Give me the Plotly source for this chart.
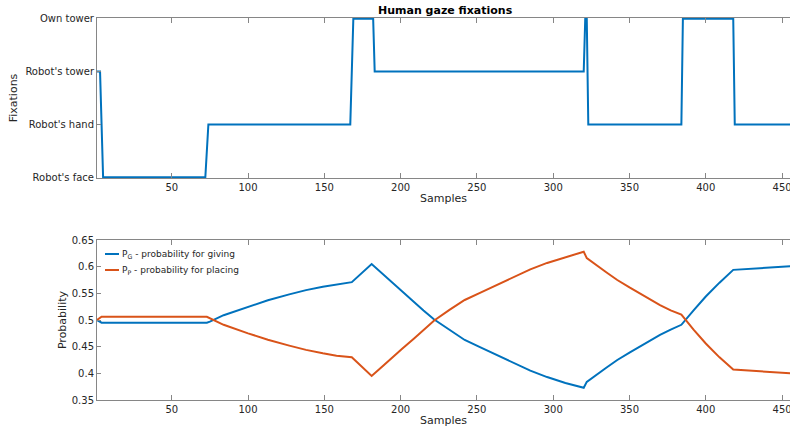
import plotly.graph_objects as go

# ---- data ----
fixation_labels = ["Robot's face", "Robot's hand", "Robot's tower", "Own tower"]

fix_samples = [1, 3, 5, 72, 74, 167, 169, 182, 183, 320, 321, 322, 323, 384, 385, 418, 419, 456]
fix_values = ["Robot's tower", "Robot's tower", "Robot's face", "Robot's face", "Robot's hand",
              "Robot's hand", "Own tower", "Own tower", "Robot's tower", "Robot's tower",
              "Own tower", "Own tower", "Robot's hand", "Robot's hand", "Own tower",
              "Own tower", "Robot's hand", "Robot's hand"]

prob_samples = [1, 4, 73, 75, 84, 100, 113, 127, 138, 149, 158, 168, 181, 188, 194, 201, 209,
                215, 222, 232, 242, 252, 262, 274, 285, 296, 308, 320, 321, 322, 335, 342, 350,
                360, 370, 377, 384, 392, 400, 409, 418, 456]
p_giving = [0.500, 0.495, 0.495, 0.497, 0.509, 0.525, 0.537, 0.548, 0.556, 0.5625, 0.567, 0.571,
            0.605, 0.587, 0.571, 0.554, 0.534, 0.518, 0.501, 0.481, 0.4625, 0.449, 0.436, 0.419,
            0.405, 0.393, 0.382, 0.373, 0.378, 0.384, 0.411, 0.425, 0.439, 0.456, 0.472, 0.482,
            0.491, 0.518, 0.544, 0.570, 0.594, 0.601]
p_placing = [0.500, 0.506, 0.506, 0.503, 0.491, 0.475, 0.463, 0.452, 0.444, 0.4375, 0.433, 0.430,
             0.395, 0.413, 0.429, 0.446, 0.466, 0.482, 0.499, 0.519, 0.5375, 0.551, 0.564, 0.581,
             0.595, 0.607, 0.618, 0.628, 0.622, 0.616, 0.589, 0.575, 0.561, 0.544, 0.528, 0.518,
             0.510, 0.482, 0.456, 0.430, 0.407, 0.400]

x_ticks = [50, 100, 150, 200, 250, 300, 350, 400, 450]
prob_ticks = [0.35, 0.4, 0.45, 0.5, 0.55, 0.6, 0.65]
prob_tick_text = ["0.35", "0.4", "0.45", "0.5", "0.55", "0.6", "0.65"]

legend_names = ["P<sub>G</sub> - probability for giving", "P<sub>P</sub> - probability for placing"]

# ---- style ----
BLUE = "#0072BD"
ORANGE = "#D95319"
TXT = "#262626"
AX = "#868686"
FONT = "DejaVu Sans"

W, H = 790, 433
L, R, T, B = 97, 0, 18, 33
plot_h = H - T - B


def frac_y(py):
    return (H - B - py) / plot_h


def frac_x(px):
    return (px - L) / (W - L - R)


top_dom = [frac_y(178), frac_y(18)]
bot_dom = [frac_y(400), frac_y(240)]

fig = go.Figure()
fig.add_trace(go.Scatter(x=fix_samples, y=fix_values, mode="lines",
                         line=dict(color=BLUE, width=2), xaxis="x", yaxis="y",
                         showlegend=False, name="Fixations"))
fig.add_trace(go.Scatter(x=prob_samples, y=p_giving, mode="lines",
                         line=dict(color=BLUE, width=2), xaxis="x2", yaxis="y2",
                         showlegend=False, name=legend_names[0]))
fig.add_trace(go.Scatter(x=prob_samples, y=p_placing, mode="lines",
                         line=dict(color=ORANGE, width=2), xaxis="x2", yaxis="y2",
                         showlegend=False, name=legend_names[1]))

xcommon = dict(range=[1, 455.2], tickvals=x_ticks, ticks="inside", ticklen=5,
               tickcolor=AX, showline=True, linecolor=AX, linewidth=1, mirror="ticks",
               showgrid=False, zeroline=False, automargin=False, ticklabeloverflow="allow",
               tickfont=dict(size=10, color=TXT, family=FONT),
               title=dict(text="Samples", font=dict(size=11, color=TXT, family=FONT), standoff=2))

ycommon = dict(ticks="inside", ticklen=4, tickcolor=AX, showline=True, linecolor=AX,
               linewidth=1, showgrid=False, zeroline=False, automargin=False,
               ticklabeloverflow="allow",
               tickfont=dict(size=10, color=TXT, family=FONT))

fig.update_layout(
    width=W, height=H, margin=dict(l=L, r=R, t=T, b=B, autoexpand=False),
    paper_bgcolor="white", plot_bgcolor="white",
    font=dict(family=FONT, color=TXT),
    xaxis=dict(domain=[0, 1], anchor="y", **xcommon),
    yaxis=dict(domain=top_dom, anchor="x", type="category",
               categoryorder="array", categoryarray=fixation_labels,
               range=[-0.015, 3.015],
               title=dict(text="Fixations", font=dict(size=11, color=TXT, family=FONT), standoff=5),
               **ycommon),
    xaxis2=dict(domain=[0, 1], anchor="y2", **xcommon),
    yaxis2=dict(domain=bot_dom, anchor="x2", range=[0.35, 0.65], tickvals=prob_ticks,
                ticktext=prob_tick_text,
                title=dict(text="Probability", font=dict(size=11, color=TXT, family=FONT), standoff=2),
                **ycommon),
)

# title
fig.add_annotation(text="<b>Human gaze fixations</b>", xref="paper", yref="paper",
                   x=frac_x(445), y=frac_y(18), xanchor="center", yanchor="bottom",
                   showarrow=False, font=dict(size=11, color="black", family=FONT), yshift=-1)

# legend (inside bottom axes, top-left, no box)
for name, col, py in [(legend_names[0], BLUE, 254), (legend_names[1], ORANGE, 270)]:
    fig.add_shape(type="line", xref="paper", yref="paper",
                  x0=frac_x(105), x1=frac_x(119), y0=frac_y(py), y1=frac_y(py),
                  line=dict(color=col, width=2))
    fig.add_annotation(text=name, xref="paper", yref="paper",
                       x=frac_x(120), y=frac_y(py), xanchor="left", yanchor="middle",
                       showarrow=False, font=dict(size=9, color=TXT, family=FONT))

fig.write_html("out.html", config={"displayModeBar": False})

# remove the default page margin so the figure sits at the window's top-left corner
with open("out.html", "r", encoding="utf-8") as f:
    page = f.read()
page = page.replace("<head>", "<head><style>html,body{margin:0;padding:0;overflow:hidden;}</style>", 1)
with open("out.html", "w", encoding="utf-8") as f:
    f.write(page)
